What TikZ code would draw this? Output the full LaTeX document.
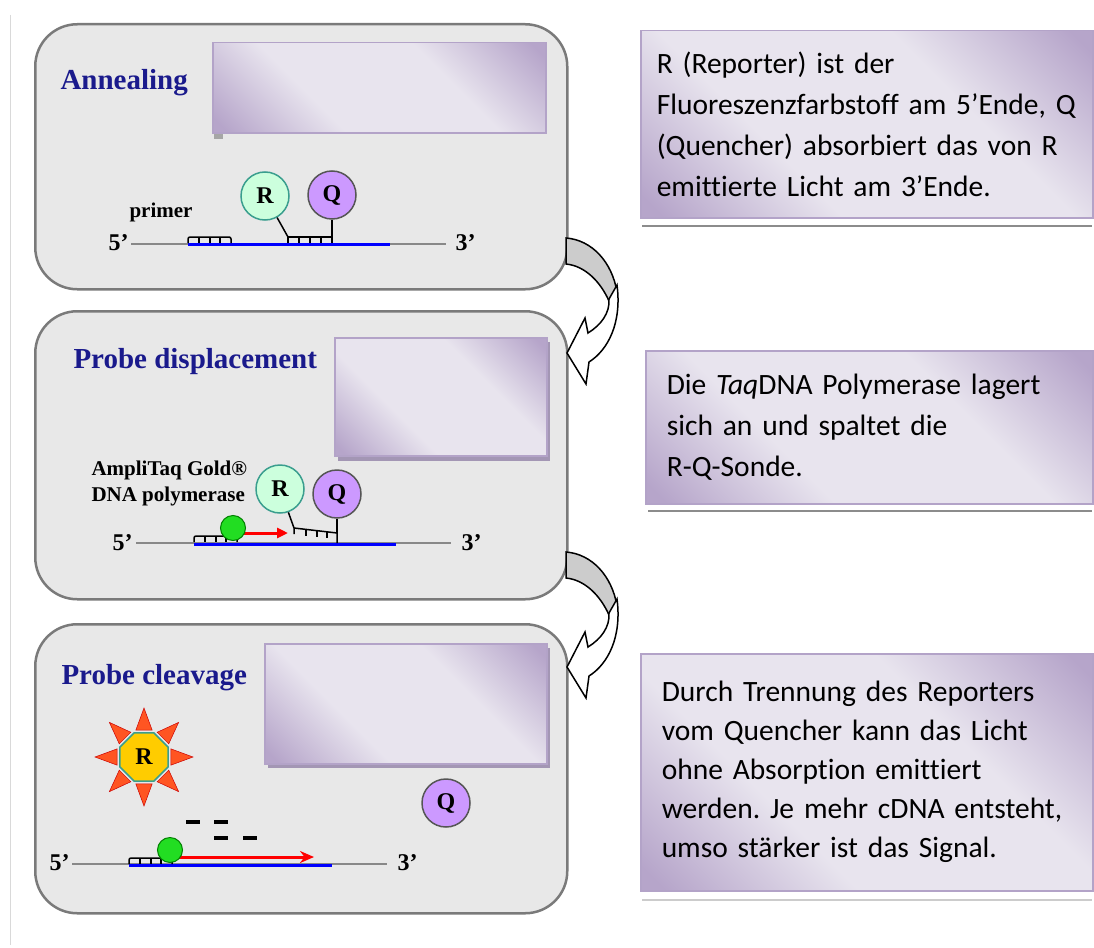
\documentclass[tikz,border=0pt]{standalone}
\usepackage{fontspec}
\setmainfont{Liberation Serif}
\newfontfamily\calibri[Ligatures=NoCommon]{Carlito}
\usetikzlibrary{arrows.meta,shapes.geometric}

\definecolor{panelfill}{HTML}{E8E8E8}
\definecolor{panelline}{HTML}{7A7A7A}
\definecolor{titleblue}{HTML}{1A1A8C}
\definecolor{lavlight}{HTML}{E8E4EE}
\definecolor{lavdark}{HTML}{B6A5CA}
\definecolor{lavline}{HTML}{B3A3C8}
\definecolor{boxshadow}{HTML}{A396B4}
\definecolor{rfill}{HTML}{CCFFDD}
\definecolor{rline}{HTML}{3A9E8E}
\definecolor{qfill}{HTML}{CC99FF}
\definecolor{qline}{HTML}{555555}
\definecolor{dnagray}{HTML}{888888}
\definecolor{sunfill}{HTML}{FFCC00}
\definecolor{sunray}{HTML}{FF5522}
\definecolor{polgreen}{HTML}{22DD22}
\definecolor{arrowgray}{HTML}{CCCCCC}

% light middle band, darker corners
\pgfdeclareverticalshading{lavshade}{100bp}{color(0bp)=(lavdark); color(17bp)=(lavdark);
	color(37bp)=(lavlight); color(63bp)=(lavlight); color(83bp)=(lavdark); color(100bp)=(lavdark)}

\frenchspacing

\begin{document}
\begin{tikzpicture}[x=1pt, y=-1pt, line width=1pt,
		panel/.style = {draw=panelline, line width=2.5pt, fill=panelfill,
			rounded corners=42pt, anchor=north west, inner sep=0pt},
		heading/.style = {anchor=west, inner sep=0pt, text=titleblue,
			font=\fontsize{29}{29}\selectfont\bfseries},
		lavender/.style = {draw=lavline, line width=1.5pt, shading=lavshade,
			shading angle=-45, anchor=north west, inner sep=0pt},
		notebox/.style = {lavender, align=left,
			font=\calibri\fontsize{29.5}{41}\selectfont},
		tag/.style = {inner sep=0pt, font=\fontsize{21}{26}\selectfont\bfseries},
		prime/.style = {inner sep=0pt, font=\fontsize{24}{24}\selectfont\bfseries},
		reporter/.style = {circle, draw=rline, line width=1.5pt, fill=rfill,
			minimum size=48pt, inner sep=0pt, font=\fontsize{24}{24}\selectfont\bfseries},
		quencher/.style = {circle, draw=qline, line width=1.5pt, fill=qfill,
			minimum size=48pt, inner sep=0pt, font=\fontsize{24}{24}\selectfont\bfseries},
		polymerase/.style = {circle, draw=green!50!black, fill=polgreen,
			minimum size=25pt, inner sep=0pt},
		strand/.style = {draw=dnagray, line width=2pt},
		template/.style = {draw=blue, line width=3pt},
		comb/.style = {draw=black, line width=1.5pt},
		bent/.style = {draw=black, line width=1.5pt}]

	\useasboundingbox (0,0) rectangle (1094,947);
	\draw[black!15] (10,15) -- (10,945);

	% the three steps
	\node [panel, minimum width=532pt, minimum height=265pt] (panel_1) at (34,23) {};
	\node [panel, minimum width=532pt, minimum height=288pt] (panel_2) at (34,310) {};
	\node [panel, minimum width=532pt, minimum height=289pt] (panel_3) at (34,623) {};

	\node [heading] (title_1) at (60,83) {Annealing};
	\node [heading] (title_2) at (73,362) {Probe displacement};
	\node [heading] (title_3) at (61,678) {Probe cleavage};

	\fill [black!35] (214,133) rectangle (223,139);
	\fill [boxshadow] (338,342) rectangle (550,461);
	\fill [boxshadow] (268,648) rectangle (550,768);
	\node [lavender, minimum width=333pt, minimum height=90pt] (box_1) at (212,42) {};
	\node [lavender, minimum width=212pt, minimum height=118pt] (box_2) at (334,337) {};
	\node [lavender, minimum width=282pt, minimum height=120pt] (box_3) at (264,643) {};

	% annealing
	\draw [strand] (131,244) -- (446,244);
	\draw [template] (188,244) -- (390,244);
	\node [prime, anchor=east] (five_1) at (129,243) {5’};
	\node [prime, anchor=west] (three_1) at (455,243) {3’};
	\node [tag] (primer) at (161,212) {primer};
	\draw [comb, rounded corners=2pt] (188,243) -- (188,237) -- (231,237) -- (231,243);
	\foreach \x in {199,210,220}
		\draw [comb] (\x,237) -- (\x,243);
	\draw [comb] (288,243) -- (288,237) -- (332,237) -- (332,243);
	\foreach \x in {299,310,321}
		\draw [comb] (\x,237) -- (\x,243);
	\node [reporter] (r_1) at (265,196) {R};
	\node [quencher] (q_1) at (332,195) {Q};
	\coordinate (p_1) at (288,237);
	\coordinate (p_2) at (332,237);
	\draw [bent] (r_1) -- (p_1);
	\draw [bent] (q_1) -- (p_2);

	% displacement
	\draw [strand] (136,543) -- (451,543);
	\draw [template] (194,544) -- (396,544);
	\node [prime, anchor=east] (five_2) at (133,543) {5’};
	\node [prime, anchor=west] (three_2) at (461,543) {3’};
	\node [tag, align=left, anchor=west] (taq) at (91,483) {AmpliTaq Gold®\\DNA polymerase};
	\draw [comb, rounded corners=2pt] (194,542) -- (194,536) -- (237,536) -- (237,542);
	\foreach \x in {205,216,226}
		\draw [comb] (\x,536) -- (\x,542);
	\draw [bent] (294,534) -- (294,528) -- (337,533) -- (337,543);
	\foreach \x/\y in {306/530,317/531,327/532}
		\draw [bent] (\x,\y) -- (\x,\y+6);
	\draw [red, line width=3pt, -{Triangle[length=11pt,width=10pt]}] (238,533) -- (288,533);
	\node [polymerase] (pol_1) at (233,528) {};
	\node [reporter] (r_2) at (280,489) {R};
	\node [quencher] (q_2) at (337,494) {Q};
	\coordinate (p_3) at (294,528);
	\coordinate (p_4) at (337,533);
	\draw [bent] (r_2) -- (p_3);
	\draw [bent] (q_2) -- (p_4);

	% cleavage
	\draw [strand] (72,864) -- (387,864);
	\draw [template] (129,865) -- (332,865);
	\node [prime, anchor=east] (five_3) at (70,863) {5’};
	\node [prime, anchor=west] (three_3) at (397,863) {3’};
	\draw [comb, rounded corners=2pt] (129,864) -- (129,858) -- (172,858) -- (172,864);
	\foreach \x in {140,151,161}
		\draw [comb] (\x,858) -- (\x,864);
	\draw [red, line width=3pt, -{Stealth[length=14pt,width=12pt]}] (174,857) -- (314,857);
	\node [polymerase] (pol_2) at (170,850) {};
	\foreach \x/\y in {186/822,214/822,214/838,243/838}
		\draw [line width=4pt] (\x,\y) -- (\x+14,\y);
	\begin{scope}[shift={(144,757)}]
		\foreach \a in {0,45,...,315}
			\filldraw [sunray, draw=red!80!black, line width=0.5pt] (\a:49) -- (\a+17:28) -- (\a-17:28) -- cycle;
	\end{scope}
	\node [regular polygon, regular polygon sides=8, draw=rline, line width=1.5pt,
		fill=sunfill, minimum size=52pt, inner sep=0pt,
		font=\fontsize{24}{24}\selectfont\bfseries] (r_3) at (144,757) {R};
	\node [quencher] (q_3) at (446,803) {Q};

	% curved arrows from one step to the next
	\foreach \dy in {0,314} {
		\begin{scope}[shift={(0,\dy)}]
			\draw [fill=arrowgray, line width=1.5pt] (566,238)
				.. controls (592,240) and (612,262) .. (617,292) -- (609,301)
				.. controls (601,283) and (586,266) .. (566,264) -- cycle;
			\draw [fill=white, line width=1.5pt] (617,285)
				.. controls (622,323) and (608,350) .. (589,362) -- (586,384)
				-- (567,353) -- (585,318) -- (588,333)
				.. controls (601,325) and (610,313) .. (609,299) -- cycle;
		\end{scope}
	}

	% notes
	\node [notebox, minimum width=452pt, minimum height=187pt, text width=420pt] (note_1) at (640,30)
		{R (Reporter) ist der\\Fluoreszenzfarbstoff am 5’Ende, Q\\(Quencher) absorbiert das von R\\emittierte Licht am 3’Ende.};
	\node [notebox, minimum width=447pt, minimum height=153pt, text width=405pt] (note_2) at (645,350)
		{Die \textit{Taq}DNA Polymerase lagert\\sich an und spaltet die\\R-Q-Sonde.};
	\node [notebox, minimum width=452pt, minimum height=237pt, text width=410pt,
		font=\calibri\fontsize{29.5}{39}\selectfont] (note_3) at (640,653)
		{Durch Trennung des Reporters\\vom Quencher kann das Licht\\ohne Absorption emittiert\\werden. Je mehr cDNA entsteht,\\umso stärker ist das Signal.};
	\draw [black!45, line width=1.5pt] (642,226) -- (1092,226);
	\draw [black!45, line width=1.5pt] (648,511) -- (1092,511);
	\draw [black!20, line width=1.5pt] (642,900) -- (1092,900);
\end{tikzpicture}
\end{document}
